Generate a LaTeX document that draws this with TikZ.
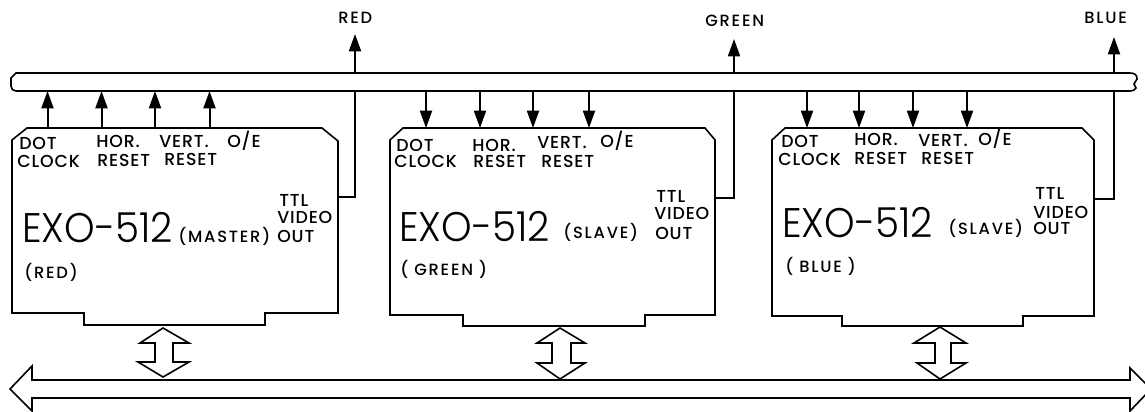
\documentclass[tikz,border=0pt]{standalone}
\usepackage{fontspec}
\usepackage{tikz}
\usetikzlibrary{arrows.meta}
\newfontfamily\labfont[LetterSpace=5]{Poppins Medium}
\newfontfamily\widefont[LetterSpace=11]{Poppins Medium}
\newfontfamily\bigfont[FakeStretch=0.94]{Poppins Light}
\begin{document}
\begin{tikzpicture}[
  x=.75pt, y=-.75pt,
  lab/.style={font=\labfont\fontsize{13}{14}\selectfont, inner sep=0pt, anchor=west, text height=9.1pt, text depth=0pt},
  sm/.style={font=\widefont\fontsize{12.2}{13}\selectfont, inner sep=0pt, anchor=west, text height=8.5pt, text depth=0pt},
  big/.style={font=\bigfont\fontsize{31}{32}\selectfont, inner sep=0pt, anchor=west, text height=22pt, text depth=0pt},
  outl/.style={draw=black, line width=1.2pt, line join=miter},
  wire/.style={draw=black, line width=1.5pt},
  arr/.style={wire, -{Triangle[length=13pt,width=9pt]}}
]
\useasboundingbox (0,0) rectangle (1145,411);
% buses
\draw[outl] (16,73) -- (1130,73) .. controls (1135,73) and (1137,75) .. (1137,79) -- (1134,84) -- (1136,88) .. controls (1135,90) and (1133,91) .. (1130,91) -- (16,91) .. controls (13,91) and (11,89) .. (11,86) -- (11,78) -- cycle;
\draw[outl] (1151,389) -- (1130,368) -- (1130,380) -- (32,380) -- (32,366) -- (10,389) -- (32,411) -- (32,398) -- (1130,398) -- (1130,411) -- cycle;
% boards
\draw[outl] (27,128) -- (322,128) -- (338,141) -- (338,313) -- (265,313) -- (265,325) -- (84,325) -- (84,313) -- (12,313) -- (12,140) -- cycle;
\draw[outl] (403,128) -- (705,128) -- (715,140) -- (715,315) -- (645,315) -- (645,326) -- (463,326) -- (463,315) -- (390,315) -- (390,140) -- cycle;
\draw[outl] (785,128) -- (1082,128) -- (1094,140) -- (1094,316) -- (1023,316) -- (1023,326) -- (842,326) -- (842,316) -- (772,316) -- (772,140) -- cycle;
% double arrows
\draw[outl] (163,328) -- (189,343) -- (173,343) -- (173,362) -- (189,362) -- (163,377) -- (138,362) -- (155,362) -- (155,343) -- (140,343) -- cycle;
\draw[outl] (560,328) -- (585,343) -- (571,343) -- (571,363) -- (585,363) -- (560,379) -- (537,363) -- (552,363) -- (552,343) -- (537,343) -- cycle;
\draw[outl] (940,327) -- (966,343) -- (951,343) -- (951,363) -- (966,363) -- (940,379) -- (917,363) -- (935,363) -- (935,343) -- (914,343) -- cycle;
% sync lines
\foreach \n/\x in {doa/47.5, hoa/101.5, vea/155, oea/209.5}{
  \coordinate (\n t) at (\x,91);
  \coordinate (\n b) at (\x,128);
  \draw[arr] (\n b) -- (\n t);
}
\foreach \n/\x in {dob/426, hob/480, veb/533, oeb/589, doc/807, hoc/859, vec/913, oec/967}{
  \coordinate (\n t) at (\x,91);
  \coordinate (\n b) at (\x,128);
  \draw[arr] (\n t) -- (\n b);
}
% video out
\foreach \n/\l/\x/\y/\e in {ra/338/355/197/34, ga/715/734/198/39, ba/1094/1114/199/37}{
  \coordinate (\n o) at (\l,\y);
  \coordinate (\n c) at (\x,\y);
  \coordinate (\n u) at (\x,91);
  \coordinate (\n v) at (\x,73);
  \coordinate (\n e) at (\x,\e);
  \draw[wire] (\n o) -- (\n c) -- (\n u);
  \draw[arr] (\n v) -- (\n e);
}
% labels
\foreach \n/\x/\y/\t in {
  dota/19/143/DOT, cloa/17/161/CLOCK, hora/96/141/HOR., hrsa/97/160/RESET, vera/159/141/VERT., vrsa/164/159/RESET, oeva/227/141/{O/E}, ttla/279/200/TTL, vida/277/217/VIDEO, outa/277/236/OUT,
  dotb/396/145/DOT, clob/394/161/CLOCK, horb/472/145/HOR., hrsb/473/161/RESET, verb/537/142/VERT., vrsb/541/161/RESET, oevb/600/141/{O/E}, ttlb/656/196/TTL, vidb/654/213/VIDEO, outb/655/233/OUT,
  dotc/781/141/DOT, cloc/778/159/CLOCK, horc/854/139/HOR., hrsc/854/158/RESET, verc/918/140/VERT., vrsc/921/158/RESET, oevc/978/139/{O/E}, ttlc/1035/193/TTL, vidc/1033/212/VIDEO, outc/1033/228/OUT}
  \node[lab] (\n) at (\x,\y) {\t};
\foreach \n/\x/\y/\t in {tred/338/18/RED, tgrn/705/21/GREEN, tblu/1084/18/BLUE,
  cola/24/273/(RED), colb/400/270/( GREEN ), colc/785/267/( BLUE ),
  masa/178/237/(MASTER), slab/563/233/(SLAVE), slac/948/229/(SLAVE)}
  \node[sm] (\n) at (\x,\y) {\t};
\node[big] (exoa) at (22,228) {EXO-512};
\node[big] (exob) at (399,227) {EXO-512};
\node[big] (exoc) at (782,223) {EXO-512};
\end{tikzpicture}
\end{document}
